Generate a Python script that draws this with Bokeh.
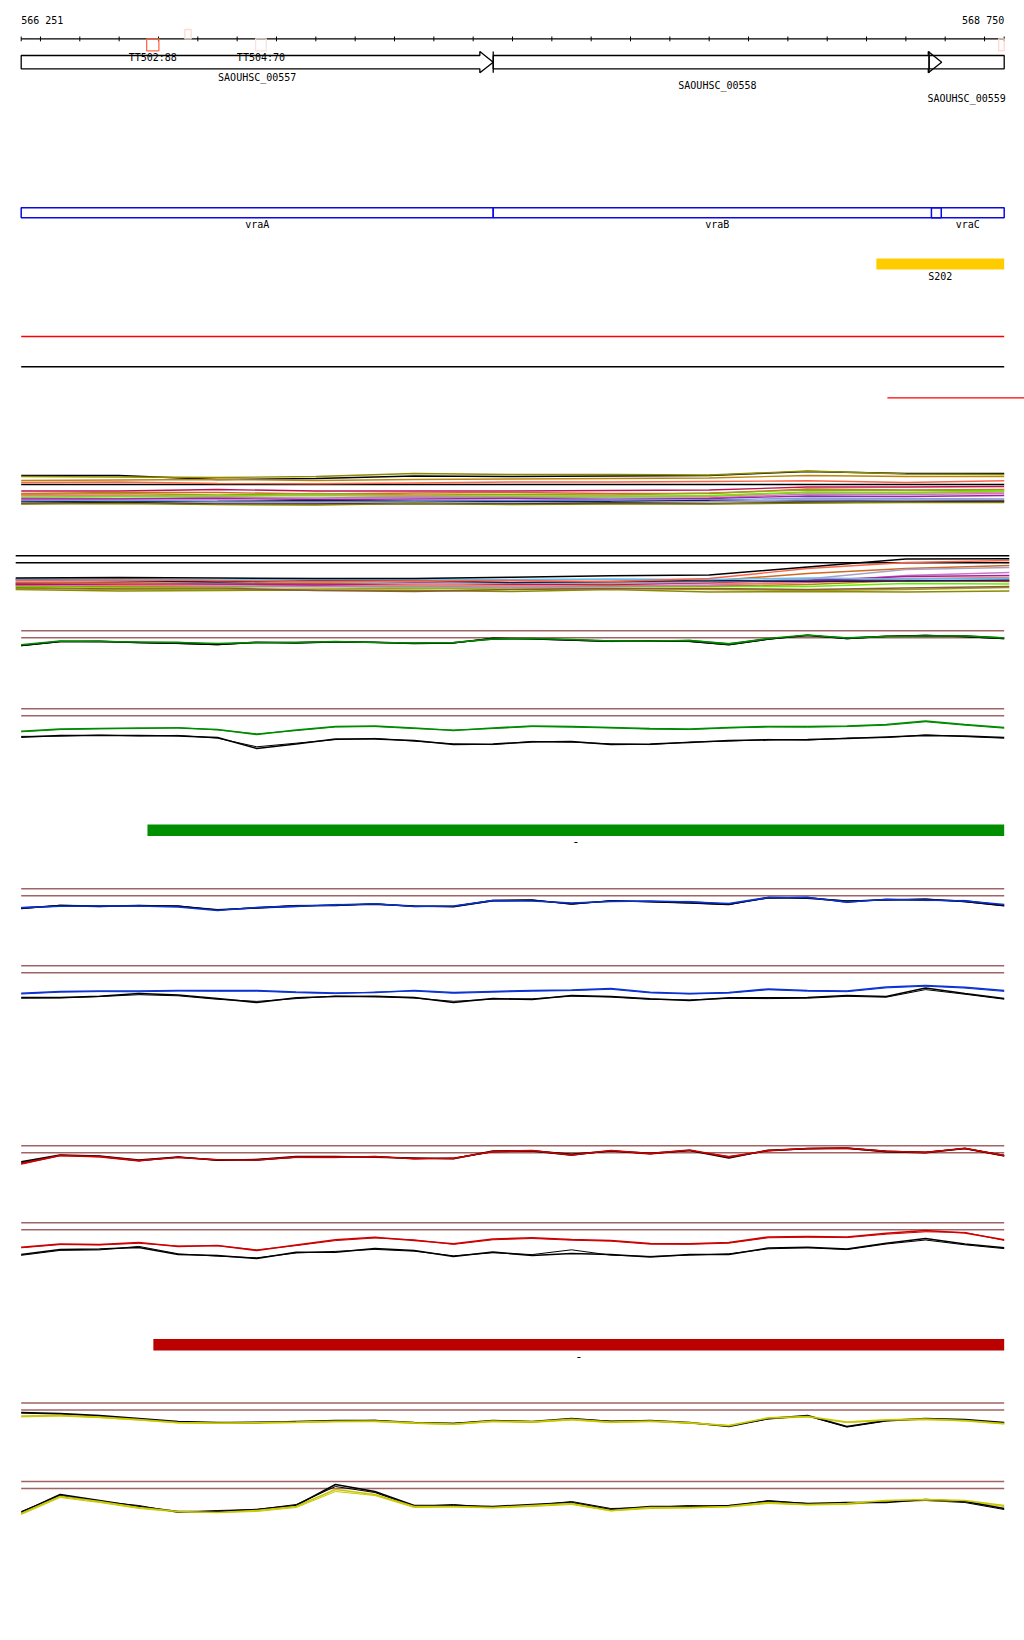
from bokeh.plotting import figure
from bokeh.models import Range1d
from bokeh.core.properties import value
from bokeh.embed import file_html
from bokeh.resources import INLINE

# ---------------- data ----------------
WIN_START = 566251
WIN_END = 568750
TICK_STEP = 100

gene_names = ["SAOUHSC_00557", "SAOUHSC_00558", "SAOUHSC_00559"]
gene_starts = [565900, 567451, 568559]
gene_ends = [567451, 568591, 569300]

operon_names = ["vraA", "vraB", "vraC"]
operon_starts = [565900, 567451, 568565]
operon_ends = [567451, 568590, 569300]

term_names = ["TT502:88", "", "TT504:70", ""]
term_starts = [566570, 566667, 566847, 568736]
term_ends = [566601, 566683, 566874, 568750]
term_strands = ["+", "-", "+", "+"]

srna_names = ["S202"]
srna_starts = [568425]
srna_ends = [568750]

green_bar = (566572, 568750, "-")
red_bar = (566587, 568750, "-")
red_line_start = 568453

# positions of expression samples
pos26 = [566251] + list(range(566350, 568700, 100)) + [568750]
pos11 = [566251, 566500, 566750, 567000, 567250, 567500, 567750, 568000, 568250, 568500, 568750]
pos11b = [566237, 566500, 566750, 567000, 567250, 567500, 567750, 568000, 568250, 568500, 568763]

# multi-condition track A (levels)
a_black = [35, 35, 31, 32, 34.5, 34, 34.5, 35, 39, 37, 37]
a_olive = [34, 33.5, 33, 34, 37, 36, 36, 35.5, 39.5, 36.5, 36]
a_tomato = [28, 28.5, 27, 26.7, 27.5, 28.5, 28.5, 29, 29.7, 28, 29.7]
a_goldenrod = [30, 30.5, 31, 30, 31, 31.5, 32, 32.5, 35, 34, 34]
a_crimson = [19.5, 19.5, 21, 19.5, 19.5, 19.5, 20, 20.5, 23.5, 23.5, 24]
a_chocolate = [17, 18, 18, 16.5, 17.5, 18, 17, 17, 21.5, 20.5, 21]
a_olivedrab = [16, 17, 15.5, 17, 15.5, 16, 15.5, 17.5, 20.5, 20, 20.5]
a_salmon = [15, 15.5, 14, 16, 15, 14, 14.5, 14, 18, 17.5, 18.5]
a_lawngreen = [13.5, 14, 14.5, 15, 14, 14.5, 14, 15, 18.5, 18, 19.5]
a_orchid = [12.5, 12, 13, 12.5, 13.5, 13, 12.5, 12.5, 16.5, 16, 17]
a_purple = [11.5, 11.5, 12, 11, 11.5, 12, 11, 12, 14.5, 14, 15]
a_skyblue = [9.5, 10, 9.5, 9.5, 10, 10, 10.5, 10.5, 12.5, 12, 11.5]
a_navy = [9, 8.5, 9, 10, 9, 9, 9, 10, 9.5, 10, 9.5]
a_lavender = [8, 7.5, 8.5, 8, 8.5, 7.5, 8, 9, 11, 10.5, 11]
a_maroon = [7, 8, 6.5, 6.5, 7, 6.5, 7.5, 7, 8, 8.5, 9]
a_olivelow = [6.5, 7, 6, 5.5, 7, 6, 6.5, 6.5, 7.5, 8, 8]

# multi-condition track B (levels)
b_black = [17.8, 18.3, 17.8, 17.3, 17.3, 18.6, 20.0, 20.8, 28.8, 36.8, 37.0]
b_tomato = [15.3, 15.8, 15.3, 14.3, 14.8, 15.3, 14.3, 17.3, 27.3, 33.3, 35.3]
b_chocolate = [13.3, 12.3, 13.3, 12.8, 12.3, 12.8, 13.3, 14.8, 22.3, 27.3, 30.3]
b_skyblue = [16.8, 17.3, 15.8, 16.3, 16.3, 16.3, 16.8, 16.3, 17.8, 16.8, 17.3]
b_navy = [16.3, 15.3, 13.8, 15.3, 15.3, 13.3, 14.3, 15.3, 14.3, 14.8, 15.8]
b_crimson = [11.3, 11.8, 12.3, 12.3, 13.3, 11.8, 11.3, 13.3, 15.8, 15.3, 14.8]
b_lavender = [14.8, 14.3, 13.3, 14.3, 12.3, 12.8, 12.3, 13.8, 16.8, 26.3, 28.3]
b_purple = [12.3, 13.3, 11.8, 10.8, 12.3, 12.3, 12.3, 14.3, 15.3, 19.3, 20.3]
b_goldenrod = [10.3, 9.3, 8.8, 11.3, 9.8, 11.3, 10.3, 9.8, 11.3, 15.3, 14.3]
b_lawngreen = [9.3, 8.3, 8.3, 9.3, 8.3, 8.3, 8.8, 9.3, 9.3, 12.3, 11.8]
b_salmon = [12.8, 10.8, 11.3, 10.3, 10.8, 10.3, 11.3, 12.3, 13.3, 17.3, 18.3]
b_olivedrab = [7.3, 6.3, 6.3, 6.8, 7.3, 6.8, 7.3, 6.3, 5.3, 6.3, 8.3]
b_olive = [6.3, 4.8, 5.3, 5.8, 5.3, 4.3, 6.3, 3.8, 4.3, 3.8, 4.8]
b_sienna = [8.3, 7.3, 7.8, 5.3, 4.3, 6.3, 7.3, 7.3, 6.3, 7.8, 9.3]
b_orchid = [10.8, 10.3, 9.8, 9.3, 9.3, 8.8, 9.3, 10.8, 13.3, 20.3, 23.3]

# paired-condition tracks (levels; thresholds at 40 and 33)
g1_col_a = [26.0, 29.8, 29.3, 28.8, 28.3, 27.3, 28.3, 28.3, 29.3, 28.3, 27.8, 28.3, 31.8, 32.3, 31.3, 29.8, 29.8, 30.3, 26.8, 32.3, 35.8, 32.8, 34.3, 34.8, 34.8, 32.8]
g1_col_b = [25.6, 29.4, 29.6, 28.4, 28.6, 26.6, 28.0, 28.6, 29.0, 28.6, 27.4, 28.0, 31.4, 32.6, 30.8, 30.2, 29.4, 30.6, 27.4, 31.8, 35.2, 33.2, 34.6, 34.4, 35.2, 33.2]
g1_blk_a = [25.3, 29.3, 29.5, 28.3, 27.6, 26.3, 28.6, 28.0, 29.0, 28.6, 27.5, 28.0, 32.3, 32.0, 30.8, 29.5, 30.0, 29.6, 26.3, 31.8, 35.3, 32.3, 34.6, 35.2, 34.4, 32.3]
g1_blk_b = [25.0, 29.0, 29.0, 28.0, 27.2, 26.0, 28.2, 27.6, 28.6, 28.2, 27.0, 27.6, 32.8, 31.6, 30.4, 29.2, 29.6, 29.2, 25.8, 31.4, 35.8, 32.0, 34.2, 35.6, 34.0, 32.0]

g2_col_a = [17.6, 19.8, 20.3, 20.8, 20.8, 19.3, 14.3, 18.8, 22.3, 22.8, 20.8, 18.3, 20.8, 22.8, 22.3, 21.3, 20.3, 19.8, 21.3, 22.3, 22.3, 22.8, 24.3, 27.8, 24.3, 21.3]
g2_col_b = [17.0, 19.2, 20.0, 20.2, 21.2, 18.8, 15.0, 18.2, 21.8, 22.2, 20.2, 18.8, 20.2, 22.2, 21.6, 20.8, 19.6, 19.2, 20.8, 21.8, 21.6, 22.2, 23.6, 27.0, 23.6, 20.6]
g2_blk_a = [11.6, 13.3, 13.3, 13.3, 12.8, 11.3, 0.3, 4.8, 9.8, 9.8, 8.3, 4.3, 4.8, 6.8, 7.3, 4.3, 4.8, 6.3, 8.3, 8.8, 9.3, 10.3, 11.8, 13.3, 12.8, 11.3]
g2_blk_b = [12.4, 12.6, 13.8, 12.8, 13.4, 10.6, 2.0, 5.6, 9.2, 10.4, 7.6, 5.0, 4.2, 7.4, 6.6, 5.0, 4.2, 6.8, 7.6, 9.4, 8.6, 10.8, 11.2, 14.0, 12.2, 10.6]

b1_col_a = [21.0, 22.6, 22.8, 22.8, 21.8, 18.3, 21.3, 22.6, 23.8, 25.0, 22.3, 22.8, 28.3, 27.8, 25.8, 27.3, 27.8, 26.8, 25.3, 31.3, 31.3, 26.8, 29.3, 28.8, 27.8, 24.3]
b1_col_b = [21.4, 23.0, 22.2, 23.4, 22.4, 19.0, 20.6, 22.0, 24.4, 24.4, 22.8, 22.2, 27.8, 28.4, 25.2, 27.8, 27.2, 27.4, 24.6, 30.8, 31.8, 26.2, 29.8, 28.2, 28.4, 23.6]
b1_blk_a = [20.5, 23.2, 22.4, 23.3, 22.6, 19.0, 20.8, 23.0, 23.5, 24.6, 22.8, 22.2, 28.0, 28.5, 25.0, 27.8, 27.3, 26.0, 24.5, 31.0, 30.6, 27.5, 29.0, 29.4, 27.4, 23.3]
b1_blk_b = [20.0, 23.6, 23.0, 22.8, 23.0, 18.6, 21.4, 23.4, 23.0, 25.2, 22.2, 22.6, 28.6, 29.0, 24.4, 28.2, 26.8, 25.6, 24.0, 31.6, 31.0, 28.0, 28.6, 29.8, 27.0, 22.8]

b2_col_a = [12.6, 14.3, 14.8, 14.8, 15.3, 15.3, 15.3, 13.8, 12.8, 13.3, 15.3, 13.3, 14.3, 15.3, 15.8, 17.3, 13.6, 12.3, 13.3, 16.8, 15.3, 14.8, 18.8, 20.3, 18.6, 15.3]
b2_col_b = [11.8, 13.6, 14.2, 14.0, 14.8, 14.5, 14.6, 13.1, 12.2, 13.8, 14.7, 12.5, 13.6, 14.6, 15.2, 16.5, 12.9, 11.8, 12.7, 16.0, 14.6, 14.1, 17.9, 19.6, 17.7, 14.4]
b2_blk_a = [8.3, 8.3, 9.6, 12.3, 10.8, 7.3, 3.3, 8.0, 9.3, 9.6, 8.3, 3.3, 7.3, 6.3, 10.3, 9.3, 7.0, 5.3, 8.0, 8.0, 8.3, 10.3, 9.3, 17.8, 12.3, 7.3]
b2_blk_b = [7.6, 7.8, 9.2, 11.1, 10.0, 6.5, 4.4, 7.2, 9.8, 9.0, 7.7, 4.5, 6.6, 7.0, 9.6, 8.7, 6.4, 5.9, 7.4, 7.2, 7.6, 9.5, 8.6, 16.2, 11.6, 6.6]

r1_col_a = [22.3, 30.3, 29.3, 25.3, 28.3, 26.0, 25.8, 28.8, 28.8, 29.0, 27.3, 27.3, 34.3, 35.3, 30.8, 35.3, 32.3, 35.8, 28.8, 35.3, 37.3, 37.8, 34.6, 33.3, 37.6, 30.3]
r1_col_b = [21.5, 30.0, 28.7, 24.6, 28.9, 25.4, 26.4, 28.2, 28.1, 29.6, 26.6, 27.9, 33.7, 35.0, 31.4, 34.6, 31.6, 35.2, 29.5, 34.7, 37.0, 37.2, 34.0, 33.9, 37.0, 29.6]
r1_blk_a = [24.0, 30.8, 29.8, 25.8, 28.8, 25.5, 26.3, 29.3, 29.3, 28.6, 27.8, 27.0, 34.8, 35.0, 31.5, 34.8, 32.6, 35.3, 27.8, 35.6, 37.0, 37.5, 34.2, 33.0, 37.3, 30.0]
r1_blk_b = [23.0, 30.5, 29.5, 25.0, 28.5, 26.2, 25.5, 28.5, 29.0, 29.3, 27.2, 27.6, 34.0, 34.5, 30.4, 35.0, 32.0, 35.5, 28.4, 35.0, 37.5, 37.8, 34.8, 33.6, 37.5, 30.6]

r2_col_a = [15.6, 18.8, 18.3, 20.3, 16.3, 17.3, 12.3, 17.8, 23.0, 25.6, 22.3, 19.0, 23.8, 25.0, 23.3, 22.3, 19.3, 19.0, 20.3, 25.8, 26.3, 25.8, 29.6, 32.3, 29.8, 23.0]
r2_col_b = [15.0, 18.2, 17.8, 19.5, 16.8, 17.0, 13.0, 17.2, 22.2, 24.8, 23.0, 18.4, 23.0, 24.3, 22.6, 21.6, 18.6, 18.5, 19.6, 25.0, 25.6, 25.2, 28.6, 31.0, 30.4, 22.4]
r2_blk_a = [8.3, 13.3, 13.8, 15.3, 8.3, 7.3, 4.3, 10.6, 10.6, 14.3, 12.3, 6.3, 10.8, 7.3, 9.3, 8.3, 5.8, 8.3, 8.3, 14.8, 15.6, 13.8, 19.6, 24.3, 18.8, 15.0]
r2_blk_b = [7.5, 12.4, 12.9, 16.4, 9.0, 6.6, 5.0, 9.8, 11.4, 13.4, 11.6, 7.0, 10.0, 8.2, 13.0, 7.6, 6.4, 7.6, 9.0, 14.0, 15.0, 13.2, 18.8, 22.8, 18.0, 14.2]

y1_col_a = [27.0, 27.8, 26.0, 23.5, 20.6, 20.0, 20.3, 21.0, 21.8, 22.0, 20.2, 19.0, 22.0, 21.2, 23.8, 21.0, 22.0, 20.2, 17.5, 25.2, 26.6, 21.0, 23.2, 24.0, 22.6, 19.6]
y1_col_b = [26.2, 27.0, 25.4, 23.0, 20.0, 19.6, 19.8, 20.4, 21.2, 21.4, 19.6, 18.6, 21.4, 20.6, 23.0, 20.4, 21.6, 19.8, 17.0, 24.6, 26.0, 20.6, 22.6, 23.4, 22.0, 19.0]
y1_blk_a = [30.6, 29.6, 27.6, 24.6, 21.6, 20.6, 20.6, 21.6, 22.6, 22.6, 20.6, 19.6, 22.6, 21.6, 24.6, 21.6, 22.6, 20.6, 16.6, 24.6, 27.6, 16.6, 22.6, 24.6, 23.6, 20.6]
y1_blk_b = [30.0, 29.0, 27.0, 24.0, 21.0, 20.4, 21.0, 21.0, 22.0, 22.8, 20.0, 19.8, 22.0, 21.0, 24.0, 22.0, 22.0, 20.0, 17.4, 24.0, 27.0, 16.0, 22.0, 24.0, 23.0, 20.0]

y2_col_a = [8, 25, 20, 14, 10, 9, 11, 15, 32, 27, 15, 15, 14, 16, 18, 11, 14, 14, 15, 19, 17, 18, 21, 22, 21, 16]
y2_col_b = [7, 24, 19, 13, 9.5, 9, 10, 14, 30, 26, 14, 14.5, 13.5, 15, 17, 10.5, 13, 13.5, 14.5, 18, 16.5, 17, 20, 21, 20, 15]
y2_blk_a = [9, 27, 21, 15, 10, 10, 12, 16, 37, 30, 16, 16, 15, 17, 19, 12, 15, 15, 16, 20, 18, 19, 19, 22, 20, 13]
y2_blk_b = [10, 26, 20, 16, 9, 11, 12, 17, 35, 29, 15, 17, 14, 16, 20, 13, 14, 16, 15, 21, 18, 18, 20, 21, 19, 12]

UPPER_LEVEL = 40
LOWER_LEVEL = 33
A_THRESHOLD = 26

# ---------------- layout ----------------
FONT = "DejaVu Sans Mono"
PX_L, PX_R = 20.7, 1003.7
FIG_W, FIG_H = 1024, 1630
PAGE_L, PAGE_T = 0, 0
bp_per_px = (WIN_END - WIN_START) / (PX_R - PX_L)
x_lo = WIN_START - (PX_L - PAGE_L) * bp_per_px
x_hi = WIN_END + (PAGE_L + FIG_W - PX_R) * bp_per_px

p = figure(width=FIG_W, height=FIG_H, x_range=Range1d(x_lo, x_hi),
           y_range=Range1d(PAGE_T + FIG_H, PAGE_T),
           output_backend="svg", toolbar_location=None,
           x_axis_type=None, y_axis_type=None, min_border=0,
           outline_line_color=None, background_fill_color="white",
           border_fill_color="white")
p.grid.visible = False


def clip(v):
    return max(WIN_START, min(WIN_END, v))


def add_text(xs, ys, texts, align="center", size="10px"):
    p.text(x=xs, y=ys, text=texts, text_font=value(FONT),
           text_font_size=value(size), text_align=value(align),
           text_baseline=value("middle"), text_color="black")


# coordinates labels
add_text([WIN_START], [20], ["{:,}".format(WIN_START).replace(",", " ")], "left")
add_text([WIN_END], [20], ["{:,}".format(WIN_END).replace(",", " ")], "right")

# ruler
RULER_Y = 38.3
p.segment(x0=[WIN_START], x1=[WIN_END], y0=[RULER_Y], y1=[RULER_Y], line_color="black", line_width=1.3)
ticks = [WIN_START] + list(range((WIN_START // TICK_STEP + 1) * TICK_STEP, WIN_END, TICK_STEP)) + [WIN_END]
p.segment(x0=ticks, x1=ticks, y0=[RULER_Y - 2.3] * len(ticks), y1=[RULER_Y + 2.5] * len(ticks),
          line_color="black", line_width=1)

# terminators
term_colors = ["#FF6A4A", "#FADCD3", "#F8E2DA", "#FDDAD0"]
tl, tr, tt, tb = [], [], [], []
for s, e, st in zip(term_starts, term_ends, term_strands):
    tl.append(s); tr.append(e)
    if st == "+":
        tt.append(RULER_Y); tb.append(RULER_Y + 12)
    else:
        tt.append(RULER_Y - 9.3); tb.append(RULER_Y)
p.quad(left=tl, right=tr, top=tt, bottom=tb, fill_color=None, line_color=term_colors, line_width=1.3)
lab_x = [(s + e) / 2 for s, e, n in zip(term_starts, term_ends, term_names) if n]
lab_t = [n for n in term_names if n]
add_text(lab_x, [57] * len(lab_x), lab_t)

# genes
HEAD_BP = 34
G_TOP, G_BOT, G_HTOP, G_HBOT = 55.0, 68.3, 51.0, 72.3
G_MID = (G_TOP + G_BOT) / 2
gx, gy = [], []
for s, e in zip(gene_starts, gene_ends):
    vs, ve = clip(s), clip(e)
    if e <= WIN_END:
        hb = e - HEAD_BP
        gx.append([vs, hb, hb, e, hb, hb, vs])
        gy.append([G_TOP, G_TOP, G_HTOP, G_MID, G_HBOT, G_BOT, G_BOT])
    else:
        gx.append([vs, ve, ve, vs])
        gy.append([G_TOP, G_TOP, G_BOT, G_BOT])
p.patches(gx, gy, fill_color=None, line_color="black", line_width=1.3)
inner = [s for s in gene_starts if s > WIN_START]
p.segment(x0=inner, x1=inner, y0=[G_HTOP] * len(inner), y1=[G_HBOT] * len(inner), line_color="black", line_width=1.3)
gene_label_rows = [76.5, 85.2, 97.8]
add_text([(clip(s) + clip(e)) / 2 for s, e in zip(gene_starts, gene_ends)], gene_label_rows, gene_names)

# operons
p.quad(left=[clip(s) for s in operon_starts], right=[clip(e) for e in operon_ends],
       top=[207.3] * 3, bottom=[217.3] * 3, fill_color=None, line_color="#0A0AE6", line_width=1.5)
add_text([(clip(s) + clip(e)) / 2 for s, e in zip(operon_starts, operon_ends)], [224.3] * 3, operon_names)

# sRNA
p.quad(left=srna_starts, right=[clip(e) for e in srna_ends], top=[258] * len(srna_starts),
       bottom=[269] * len(srna_starts), fill_color="#FFCC00", line_color=None)
add_text([(s + clip(e)) / 2 for s, e in zip(srna_starts, srna_ends)], [275.5], srna_names)

# empty tracks
p.segment(x0=[WIN_START], x1=[WIN_END], y0=[336], y1=[336], line_color="#FF0000", line_width=1.3)
p.segment(x0=[WIN_START], x1=[WIN_END], y0=[366.3], y1=[366.3], line_color="black", line_width=1.6)
p.segment(x0=[red_line_start], x1=[x_hi], y0=[397.3], y1=[397.3], line_color="#FF0000", line_width=1.3)

# y ranges for expression tracks
anchors = {"A": 470, "B": 555.3, "g1": 630.3, "g2": 708.3, "b1": 888.3, "b2": 965.3,
           "r1": 1145.3, "r2": 1222.3, "y1": 1402.6, "y2": 1481}
p.extra_y_ranges = {k: Range1d(start=a + UPPER_LEVEL - (PAGE_T + FIG_H), end=a + UPPER_LEVEL - PAGE_T)
                    for k, a in anchors.items()}

# multi track A
p.segment(x0=[WIN_START], x1=[WIN_END], y0=[A_THRESHOLD], y1=[A_THRESHOLD], y_range_name="A",
          line_color="black", line_width=1.6)
multiA = [(a_black, "#000000"), (a_olive, "#8B8B00"), (a_goldenrod, "#B8860B"), (a_tomato, "#FF6347"),
          (a_crimson, "#C0104F"), (a_chocolate, "#D2691E"), (a_olivedrab, "#A0A020"),
          (a_salmon, "#F08070"), (a_lawngreen, "#66EE00"), (a_orchid, "#C878C8"),
          (a_purple, "#A020A0"), (a_skyblue, "#70A8E8"), (a_navy, "#102050"),
          (a_lavender, "#A8A0C8"), (a_maroon, "#301020"), (a_olivelow, "#808000")]
for vals, col in multiA:
    p.line(pos11, vals, y_range_name="A", line_color=col, line_width=1.4)

# multi track B
p.segment(x0=[pos11b[0]] * 2, x1=[pos11b[-1]] * 2, y0=[UPPER_LEVEL, LOWER_LEVEL], y1=[UPPER_LEVEL, LOWER_LEVEL],
          y_range_name="B", line_color="black", line_width=1.6)
multiB = [(b_olive, "#8B8B00"), (b_olivedrab, "#A0A020"), (b_sienna, "#8B5A3C"), (b_lawngreen, "#66EE00"),
          (b_goldenrod, "#B8860B"), (b_orchid, "#C878C8"), (b_salmon, "#F08070"), (b_crimson, "#C0104F"),
          (b_purple, "#A020A0"), (b_chocolate, "#D2691E"), (b_lavender, "#A8A0C8"), (b_navy, "#102050"),
          (b_skyblue, "#60C0F0"), (b_tomato, "#FF6347"), (b_black, "#000000")]
for vals, col in multiB:
    p.line(pos11b, vals, y_range_name="B", line_color=col, line_width=1.4)

# paired tracks
BROWN = "#A06464"
paired = [("g1", "#008A00", g1_col_a, g1_col_b, g1_blk_a, g1_blk_b),
          ("g2", "#008A00", g2_col_a, g2_col_b, g2_blk_a, g2_blk_b),
          ("b1", "#0A32D2", b1_col_a, b1_col_b, b1_blk_a, b1_blk_b),
          ("b2", "#0A32D2", b2_col_a, b2_col_b, b2_blk_a, b2_blk_b),
          ("r1", "#CC0000", r1_col_a, r1_col_b, r1_blk_a, r1_blk_b),
          ("r2", "#CC0000", r2_col_a, r2_col_b, r2_blk_a, r2_blk_b),
          ("y1", "#C8C800", y1_col_a, y1_col_b, y1_blk_a, y1_blk_b),
          ("y2", "#C8C800", y2_col_a, y2_col_b, y2_blk_a, y2_blk_b)]
for name, col, ca, cb, ka, kb in paired:
    p.segment(x0=[WIN_START] * 2, x1=[WIN_END] * 2, y0=[UPPER_LEVEL, LOWER_LEVEL],
              y1=[UPPER_LEVEL, LOWER_LEVEL], y_range_name=name, line_color=BROWN, line_width=1.5)
    p.line(pos26, kb, y_range_name=name, line_color="black", line_width=1.0)
    p.line(pos26, cb, y_range_name=name, line_color=col, line_width=1.0)
    p.line(pos26, ka, y_range_name=name, line_color="black", line_width=1.6)
    p.line(pos26, ca, y_range_name=name, line_color=col, line_width=1.6)

# feature bars
for (s, e, lab), col, top in [(green_bar, "#008F00", 824), (red_bar, "#BB0000", 1338.6)]:
    p.quad(left=[s], right=[e], top=[top], bottom=[top + 11.5], fill_color=col, line_color=None)
    add_text([(s + e) / 2], [top + 17], [lab], size="12px")

open("out.html", "w").write(file_html(p, INLINE))
